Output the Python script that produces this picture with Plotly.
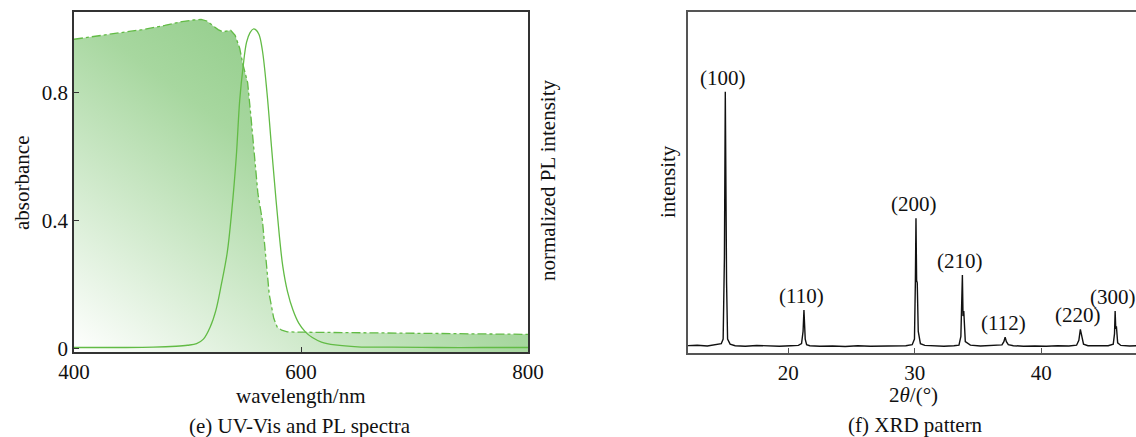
import base64
import plotly.graph_objects as go

# ---------------- data: (e) UV-Vis and PL ----------------
abs_wl = [400, 420, 440, 460, 480, 495, 505, 512, 517, 522, 527, 531, 535, 538, 542, 546,
          549, 551, 553, 556, 559, 562, 566, 569, 572, 576, 579, 583, 588, 595, 620, 660,
          700, 750, 800]
abs_val = [0.965, 0.975, 0.985, 0.995, 1.008, 1.02, 1.025, 1.027, 1.022, 1.009, 0.995, 0.988,
           0.99, 0.993, 0.977, 0.937, 0.884, 0.853, 0.83, 0.72, 0.59, 0.485, 0.40, 0.28,
           0.17, 0.095, 0.068, 0.058, 0.053, 0.052, 0.051, 0.050, 0.048, 0.046, 0.045]

pl_wl = [400, 440, 470, 490, 500, 508, 514, 520, 525, 530, 535, 539, 543, 546, 549, 552,
         555, 558, 560, 563, 566, 570, 574, 578, 581, 584, 588, 593, 598, 604, 610, 618,
         630, 650, 680, 720, 760, 800]
pl_val = [0.004, 0.004, 0.005, 0.008, 0.011, 0.016, 0.03, 0.068, 0.12, 0.204, 0.30, 0.43,
          0.60, 0.775, 0.88, 0.955, 0.985, 0.997, 0.995, 0.98, 0.93, 0.80, 0.63, 0.464,
          0.35, 0.256, 0.18, 0.12, 0.08, 0.052, 0.035, 0.021, 0.012, 0.006, 0.005, 0.004,
          0.004, 0.004]

# ---------------- data: (f) XRD ----------------
two_theta = [12.0, 12.8, 13.6, 14.3, 14.7, 14.85, 14.95, 15.02, 15.07, 15.12, 15.2, 15.4, 15.8,
             16.6, 17.5, 18.4, 19.3, 20.2, 20.8, 21.05, 21.17, 21.24, 21.29, 21.34, 21.45,
             21.7, 22.5, 23.5, 24.5, 25.5, 26.5, 27.5, 28.5, 29.3, 29.8, 29.98, 30.05, 30.1,
             30.15, 30.2, 30.28, 30.45, 30.8, 31.5, 32.3, 33.1, 33.5, 33.65, 33.72, 33.77,
             33.82, 33.88, 34.0, 34.4, 35.2, 36.2, 36.9, 37.05, 37.15, 37.25, 37.4, 37.8,
             38.6, 39.5, 40.4, 41.3, 42.2, 42.8, 42.98, 43.1, 43.2, 43.35, 43.7, 44.5, 45.3,
             45.7, 45.8, 45.85, 45.9, 45.95, 46.05, 46.3, 47.0, 48.0]
intensity = [0.004, 0.006, 0.003, 0.008, 0.012, 0.03, 0.35, 1.0, 0.55, 0.25, 0.03, 0.01, 0.004,
             0.002, 0.005, 0.003, 0.002, 0.004, 0.005, 0.012, 0.06, 0.144, 0.08, 0.03, 0.008,
             0.004, 0.002, 0.003, 0.001, 0.004, 0.002, 0.003, 0.005, 0.004, 0.008, 0.03, 0.25,
             0.504, 0.26, 0.25, 0.06, 0.012, 0.005, 0.003, 0.002, 0.004, 0.006, 0.04, 0.18,
             0.281, 0.12, 0.14, 0.02, 0.006, 0.003, 0.004, 0.007, 0.02, 0.037, 0.02, 0.008,
             0.004, 0.002, 0.003, 0.002, 0.004, 0.003, 0.006, 0.025, 0.068, 0.04, 0.01, 0.004,
             0.003, 0.004, 0.01, 0.05, 0.14, 0.07, 0.08, 0.015, 0.005, 0.003, 0.004]

peak_labels = ["(100)", "(110)", "(200)", "(210)", "(112)", "(220)", "(300)"]
peak_pos = [15.02, 21.24, 30.1, 33.77, 37.15, 43.1, 45.85]
peak_height = [1.0, 0.144, 0.504, 0.281, 0.037, 0.068, 0.14]

FONT = "Liberation Serif"
W, H = 1136, 437
GREEN = "#62bb45"

def px(x):
    return x / W

def py(y):
    return 1 - y / H

fig = go.Figure()

# gradient background (diagonal), masked above absorbance curve
svg = ("<svg xmlns='http://www.w3.org/2000/svg' width='454' height='340' viewBox='0 0 454 340' "
       "preserveAspectRatio='none'><defs><linearGradient id='g' x1='0' y1='1' x2='1' y2='0'>"
       "<stop offset='0' stop-color='#ffffff'/><stop offset='0.5' stop-color='#a7d79f'/>"
       "<stop offset='1' stop-color='#72bd6a'/></linearGradient></defs>"
       "<rect width='454' height='340' fill='url(#g)'/></svg>")
src = "data:image/svg+xml;base64," + base64.b64encode(svg.encode()).decode()

YMIN1, YMAX1 = -0.01, 1.05
fig.add_layout_image(dict(source=src, xref="x", yref="y", x=400, y=YMAX1, sizex=400,
                          sizey=YMAX1 - YMIN1, sizing="stretch", xanchor="left",
                          yanchor="top", layer="below"))

mask_x = abs_wl + [800, 800, 400, 400]
mask_y = abs_val + [abs_val[-1], 1.2, 1.2, abs_val[0]]
fig.add_trace(go.Scatter(x=mask_x, y=mask_y, fill="toself", fillcolor="white",
                         line=dict(width=0), mode="lines", hoverinfo="skip",
                         showlegend=False, xaxis="x", yaxis="y"))
fig.add_trace(go.Scatter(x=abs_wl, y=abs_val, mode="lines",
                         line=dict(color=GREEN, width=1.3, dash="dashdot"),
                         showlegend=False, xaxis="x", yaxis="y"))
fig.add_trace(go.Scatter(x=pl_wl, y=pl_val, mode="lines", line_shape="spline",
                         line=dict(color=GREEN, width=1.3),
                         showlegend=False, xaxis="x", yaxis="y"))

fig.add_trace(go.Scatter(x=two_theta, y=intensity, mode="lines",
                         line=dict(color="#111111", width=1.4),
                         showlegend=False, xaxis="x2", yaxis="y2"))

for lab, xp, hp in zip(peak_labels, peak_pos, peak_height):
    fig.add_annotation(x=xp, y=hp, xref="x2", yref="y2", text=lab, showarrow=False,
                       yanchor="bottom", xanchor="center", xshift=-2, yshift=0,
                       font=dict(family=FONT, size=21, color="#111111"))

tickfont = dict(family=FONT, size=21, color="#111111")
fig.update_layout(
    width=W, height=H, margin=dict(l=0, r=0, t=0, b=0),
    paper_bgcolor="white", plot_bgcolor="rgba(0,0,0,0)",
    xaxis=dict(domain=[px(74), px(528)], range=[400, 800], tickvals=[400, 600, 800],
               ticks="inside", ticklen=5, tickcolor="#333", showline=True, mirror=True,
               linecolor="#333", linewidth=1.5, showgrid=False, zeroline=False,
               tickfont=tickfont, anchor="y", automargin=False),
    yaxis=dict(domain=[py(352), py(12)], range=[YMIN1, YMAX1], tickvals=[0, 0.4, 0.8],
               ticktext=["0", "0.4", "0.8"], ticks="inside", ticklen=5, tickcolor="#333",
               showline=True, mirror=True, linecolor="#333", linewidth=1.5,
               showgrid=False, zeroline=False, tickfont=tickfont, anchor="x",
               automargin=False),
    xaxis2=dict(domain=[px(688), 1.0], range=[12.07, 47.5], tickvals=[20, 30, 40],
                ticks="inside", ticklen=5, tickcolor="#555", showline=True, mirror=True,
                linecolor="#555", linewidth=1.5, showgrid=False, zeroline=False,
                tickfont=tickfont, anchor="y2", automargin=False),
    yaxis2=dict(domain=[py(352.7), py(12)], range=[-0.0235, 1.3125], showticklabels=False,
                ticks="", showline=True, mirror=False, linecolor="#555", linewidth=1.5,
                showgrid=False, zeroline=False, anchor="x2", automargin=False),
)

def note(text, x, y, angle=0):
    fig.add_annotation(x=px(x), y=py(y), xref="paper", yref="paper", text=text,
                       showarrow=False, textangle=angle, xanchor="center", yanchor="middle",
                       font=dict(family=FONT, size=21, color="#111111"))

note("absorbance", 22, 183, -90)
note("normalized PL intensity", 548, 180, -90)
note("wavelength/nm", 300, 396)
note("(e) UV-Vis and PL spectra", 300, 426)
note("intensity", 668, 182, -90)
note("2<i>θ</i>/(°)", 913, 395)
note("(f) XRD pattern", 915, 425)

fig.write_html("out.html", config={"displayModeBar": False},
               post_script="document.body.style.margin='0';document.body.style.overflow='hidden';")
